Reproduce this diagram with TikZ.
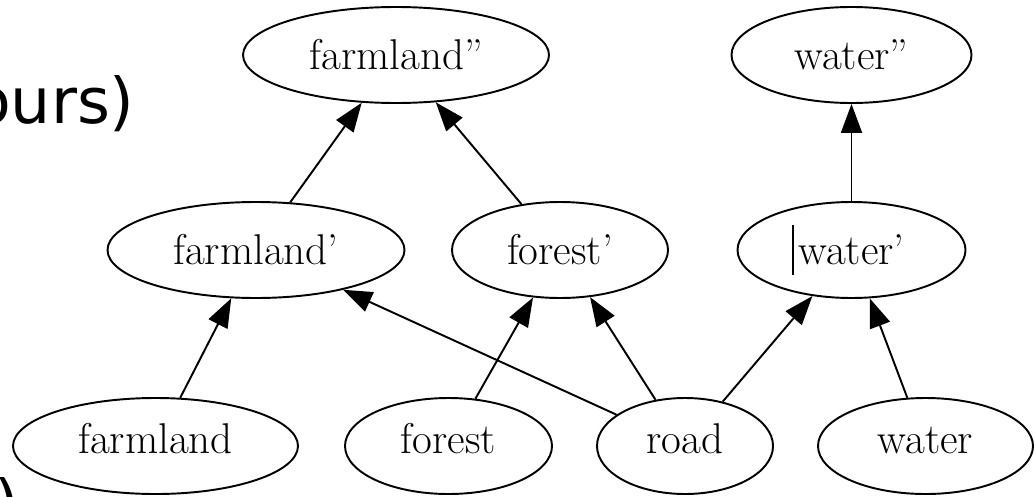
\documentclass[tikz,border=0pt]{standalone}
\usepackage{fontspec}
\newfontfamily\diapofont{DejaVu Sans}
\usetikzlibrary{shapes.geometric,arrows.meta}
\tikzset{
  estado/.style={draw,ellipse,line width=1.1pt,inner sep=0pt,minimum height=1.92cm,font=\fontsize{24.5}{29}\selectfont},
  abajo/.style={text height=0.6cm,text depth=0.32cm},
  flecha/.style={-{Triangle[length=5.8mm,width=4.2mm]},line width=1.1pt},
  diapo/.style={inner sep=0pt,font=\diapofont\fontsize{36}{40}\selectfont}
}
\begin{document}
\begin{tikzpicture}[scale=1]
    \useasboundingbox (0,0) rectangle (20.68,9.92);
    %Texto de la diapositiva
    \node[diapo,anchor=base east] (dtxt) at (2.7,7.46) {ours)};
    \node[diapo,anchor=base east] (dpar) at (0.4,-0.58) {)};
    %Nivel 2
    \node[estado,minimum width=6.12cm] (fl2) at (7.92,8.82) {farmland''};
    \node[estado,minimum width=4.8cm]  (wa2) at (17.03,8.82) {water''};
    %Nivel 1
    \node[estado,minimum width=5.94cm] (fl1) at (5.12,4.92) {farmland'};
    \node[estado,minimum width=4.32cm] (fo1) at (11.2,4.92) {forest'};
    \node[estado,minimum width=4.56cm] (wa1) at (17.03,4.92) {water'};
    %Nivel 0
    \node[estado,abajo,minimum width=5.7cm]  (fl0) at (3.11,1.0) {farmland};
    \node[estado,abajo,minimum width=4.14cm] (fo0) at (8.97,1.0) {forest};
    \node[estado,abajo,minimum width=3.52cm] (ro0) at (13.7,1.0) {road};
    \node[estado,abajo,minimum width=4.3cm]  (wa0) at (18.51,1.0) {water};
    %Cursor
    \draw[line width=0.6pt] (15.86,5.42) -- (15.86,4.42);
    %Aristas
    \draw[flecha] (fl1) -- (fl2);
    \draw[flecha] (fo1) -- (fl2);
    \draw[flecha] (wa1) -- (wa2);
    \draw[flecha] (fl0) -- (fl1);
    \draw[flecha] (ro0) -- (fl1);
    \draw[flecha] (fo0) -- (fo1);
    \draw[flecha] (ro0) -- (fo1);
    \draw[flecha] (ro0) -- (wa1);
    \draw[flecha] (wa0) -- (wa1);
\end{tikzpicture}
\end{document}
